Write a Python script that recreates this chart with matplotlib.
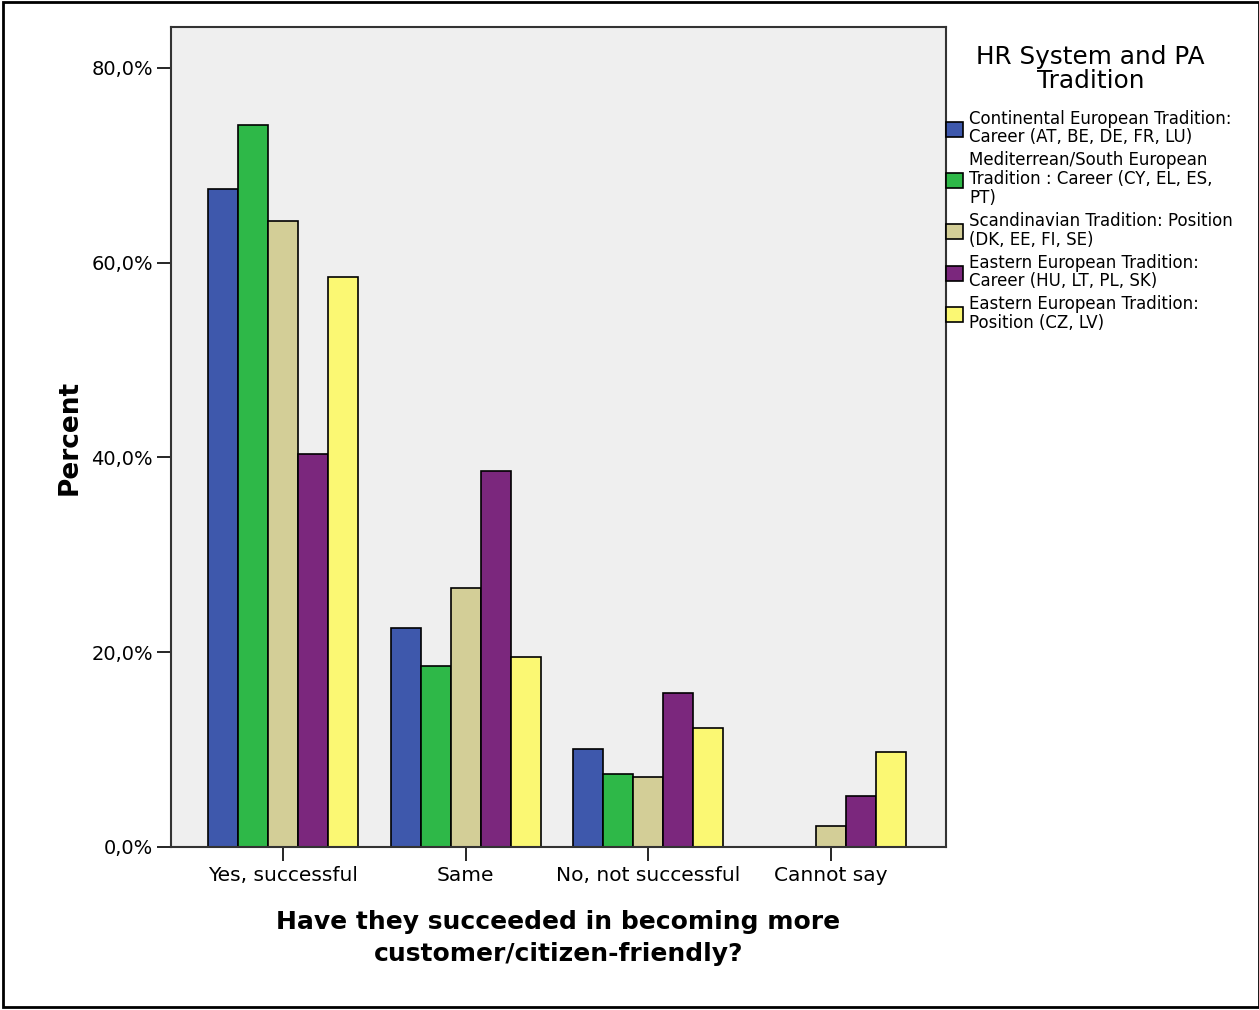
import numpy as np
import matplotlib
matplotlib.use("Agg")
import matplotlib.pyplot as plt
from matplotlib.patches import Rectangle
from matplotlib.ticker import FuncFormatter

categories = ["Yes, successful", "Same", "No, not successful", "Cannot say"]
groups = [
    "Continental European Tradition:\nCareer (AT, BE, DE, FR, LU)",
    "Mediterrean/South European\nTradition : Career (CY, EL, ES,\nPT)",
    "Scandinavian Tradition: Position\n(DK, EE, FI, SE)",
    "Eastern European Tradition:\nCareer (HU, LT, PL, SK)",
    "Eastern European Tradition:\nPosition (CZ, LV)",
]
continental = [67.6, 22.5, 10.1, 0.0]
mediterranean = [74.1, 18.6, 7.5, 0.0]
scandinavian = [64.3, 26.6, 7.2, 2.2]
eastern_career = [40.4, 38.6, 15.8, 5.2]
eastern_position = [58.5, 19.5, 12.2, 9.8]
colors = ["#3E58AC", "#2EB848", "#D3CE97", "#7B277D", "#FBF873"]

series = [continental, mediterranean, scandinavian, eastern_career, eastern_position]

fig = plt.figure(figsize=(12.59, 10.10), dpi=100)
ax = fig.add_axes([0.1358, 0.1614, 0.6156, 0.8119])
ax.set_facecolor("#EFEFEF")

x = np.arange(len(categories))
w = 0.164
for i, (vals, col, lab) in enumerate(zip(series, colors, groups)):
    ax.bar(x + (i - 2) * w, vals, width=w, color=col, edgecolor="black",
           linewidth=1.2, label=lab)

ax.set_xlim(-0.612, 3.628)
ax.set_ylim(0, 84.2)
ax.set_yticks([0, 20, 40, 60, 80])
ax.yaxis.set_major_formatter(FuncFormatter(lambda v, p: f"{v:.1f}%".replace(".", ",")))
ax.set_xticks(x)
ax.set_xticklabels(categories)
ax.tick_params(axis="both", direction="out", length=10, width=1.2, colors="black")
ax.tick_params(axis="y", pad=3, labelsize=14)
ax.tick_params(axis="x", pad=4, labelsize=14.5)
for s in ax.spines.values():
    s.set_linewidth(1.5)
    s.set_color("#333333")

ax.set_ylabel("Percent", fontsize=19, fontweight="bold", labelpad=6)
ax.set_xlabel("Have they succeeded in becoming more\ncustomer/citizen-friendly?",
              fontsize=18, fontweight="bold", labelpad=18, linespacing=1.4)

# legend title drawn separately so the gap to the entries matches
fig.text(0.866, 0.932, "HR System and PA\nTradition", fontsize=17.8,
         ha="center", va="center", multialignment="center", linespacing=1.0)

leg = ax.legend(loc="upper left", bbox_to_anchor=(1.0, 0.899), frameon=False,
                fontsize=12, handlelength=1.0, handleheight=1.0,
                handletextpad=0.4, labelspacing=0.3, borderaxespad=0.0,
                borderpad=0.0)
for t in leg.get_texts():
    t.set_linespacing(1.05)

fig.patches.append(Rectangle((0.0024, 0.003), 0.9976, 0.995, transform=fig.transFigure,
                             fill=False, edgecolor="black", linewidth=2))

fig.savefig("out.png", dpi=100)
